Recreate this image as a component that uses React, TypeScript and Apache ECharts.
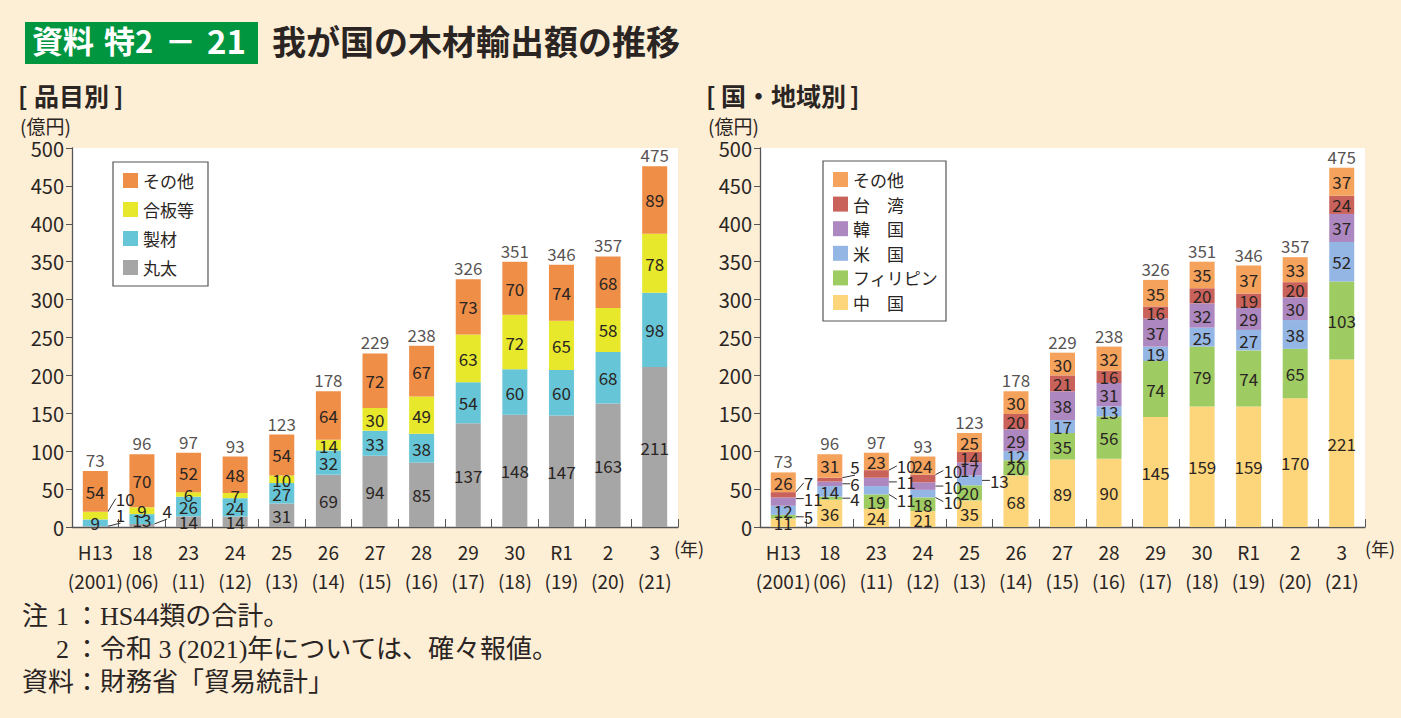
import React, { useEffect, useRef } from 'react';
import * as echarts from 'echarts';

// ---------- DATA ----------
const categories = ['H13\n(2001)', '18\n(06)', '23\n(11)', '24\n(12)', '25\n(13)', '26\n(14)', '27\n(15)', '28\n(16)', '29\n(17)', '30\n(18)', 'R1\n(19)', '2\n(20)', '3\n(21)'];
const totals = [73, 96, 97, 93, 123, 178, 229, 238, 326, 351, 346, 357, 475];

// 品目別
const logs = [1, 4, 14, 14, 31, 69, 94, 85, 137, 148, 147, 163, 211]; // 丸太
const lumber = [9, 13, 26, 24, 27, 32, 33, 38, 54, 60, 60, 68, 98]; // 製材
const plywood = [10, 9, 6, 7, 10, 14, 30, 49, 63, 72, 65, 58, 78]; // 合板等
const otherItems = [54, 70, 52, 48, 54, 64, 72, 67, 73, 70, 74, 68, 89]; // その他

// 国・地域別
const china = [11, 36, 24, 21, 35, 68, 89, 90, 145, 159, 159, 170, 221];
const philippines = [5, 4, 19, 18, 20, 20, 35, 56, 74, 79, 74, 65, 103];
const usa = [12, 14, 11, 10, 13, 12, 17, 13, 19, 25, 27, 38, 52];
const korea = [11, 6, 11, 10, 17, 29, 38, 31, 37, 32, 29, 30, 37];
const taiwan = [7, 5, 10, 10, 14, 20, 21, 16, 16, 20, 19, 20, 24];
const otherRegions = [26, 31, 23, 24, 25, 30, 30, 32, 35, 35, 37, 33, 37];

// ---------- STYLE ----------
const FONT = "'Noto Sans CJK JP', 'Noto Sans', sans-serif";
const SERIF = "'Liberation Serif', 'DejaVu Serif', 'Noto Sans CJK JP', serif";
const TXT = '#2a2523';
const BG = '#FDEED6';

// callout offsets (dataIndex -> vertical shift of label in px)
const callLogs: Record<number, number> = { 0: -12, 1: -15 };
const callPlywood: Record<number, number> = { 0: -17 };
const callPhil: Record<number, number> = { 0: 0, 1: 0 };
const callUsa: Record<number, number> = { 2: 9, 3: 8, 4: 0 };
const callKorea: Record<number, number> = { 0: -3, 1: 0, 2: 0, 3: 0 };
const callTaiwan: Record<number, number> = { 0: -12, 1: -13, 2: -8, 3: -8 };

function toData(values: number[], callouts: Record<number, number>) {
  return values.map((v, i) =>
    callouts[i] !== undefined
      ? {
          value: v,
          label: { position: 'right', distance: 8 },
          labelLine: { show: true, lineStyle: { color: '#333', width: 1 } },
        }
      : v
  );
}

function makeLayout(callouts: Record<number, number>) {
  return (p: any) => {
    const dy = callouts[p.dataIndex];
    if (dy === undefined) return {};
    const r = p.rect;
    const x0 = r.x + r.width;
    const yc = r.y + r.height / 2;
    const lx = x0 + 8;
    const ly = yc + dy;
    const endY = dy < -4 ? ly + 4 : dy > 4 ? ly - 4 : yc + dy;
    return {
      x: lx,
      y: ly,
      align: 'left',
      verticalAlign: 'middle',
      labelLinePoints: [
        [x0 + 1, yc],
        [lx - 1, endY],
        [lx - 1, endY],
      ],
    };
  };
}

function barSeries(name: string, values: number[], color: string, stack: string, axis: number, callouts: Record<number, number>) {
  return {
    type: 'bar',
    name,
    stack,
    xAxisIndex: axis,
    yAxisIndex: axis,
    barWidth: 25,
    data: toData(values, callouts),
    itemStyle: { color },
    emphasis: { disabled: true },
    silent: true,
    label: {
      show: true,
      position: 'inside',
      fontSize: 17,
      fontFamily: FONT,
      color: TXT,
    },
    labelLayout: makeLayout(callouts),
  };
}

const leftSums = categories.map((_, i) => logs[i] + lumber[i] + plywood[i] + otherItems[i]);
const rightSums = categories.map((_, i) => china[i] + philippines[i] + usa[i] + korea[i] + taiwan[i] + otherRegions[i]);

function totalSeries(axis: number, sums: number[]) {
  return {
    type: 'scatter',
    xAxisIndex: axis,
    yAxisIndex: axis,
    symbolSize: 0,
    silent: true,
    data: sums,
    label: {
      show: true,
      position: 'top',
      distance: 3,
      fontSize: 17,
      fontFamily: FONT,
      color: TXT,
      formatter: (p: any) => String(totals[p.dataIndex]),
    },
  };
}

function xAxis(grid: number) {
  return {
    type: 'category',
    gridIndex: grid,
    data: categories,
    axisLine: { lineStyle: { color: '#555', width: 1.3 } },
    axisTick: { show: true, inside: true, length: 8, lineStyle: { color: '#555' } },
    axisLabel: { interval: 0, fontSize: 19, lineHeight: 29, margin: 10, color: TXT, fontFamily: FONT },
  };
}

function yAxis(grid: number) {
  return {
    type: 'value',
    gridIndex: grid,
    min: 0,
    max: 500,
    interval: 50,
    axisLine: { show: true, lineStyle: { color: '#555', width: 1.3 } },
    axisTick: { show: true, length: 6, lineStyle: { color: '#555' } },
    splitLine: { show: false },
    axisLabel: { fontSize: 20, margin: 8, color: TXT, fontFamily: FONT },
  };
}

const legendBase = {
  orient: 'vertical',
  icon: 'rect',
  itemWidth: 15,
  itemHeight: 15,
  borderColor: '#555',
  borderWidth: 1.2,
  backgroundColor: '#fff',
  borderRadius: 0,
  selectedMode: false,
  textStyle: { fontSize: 17, fontFamily: FONT, color: TXT },
};

const txt = (left: number, top: number, text: string, fontSize: number, extra: any = {}) => ({
  type: 'text',
  left,
  top,
  style: { text, fill: TXT, fontSize, fontFamily: FONT, ...extra },
});

export default function App() {
  const ref = useRef<HTMLDivElement>(null);
  useEffect(() => {
    document.body.style.margin = '0';
    const chart = echarts.init(ref.current!, undefined, { renderer: 'svg', width: 1401, height: 718 });
    const option: any = {
      animation: false,
      backgroundColor: BG,
      grid: [
        { left: 72, top: 148, width: 606, height: 379, show: true, backgroundColor: '#fff', borderWidth: 0 },
        { left: 760, top: 148, width: 605, height: 379, show: true, backgroundColor: '#fff', borderWidth: 0 },
      ],
      xAxis: [xAxis(0), xAxis(1)],
      yAxis: [yAxis(0), yAxis(1)],
      legend: [
        {
          ...legendBase,
          left: 113,
          top: 162,
          padding: [10, 14, 10, 10],
          itemGap: 12,
          data: ['その他', '合板等', '製材', '丸太'],
        },
        {
          ...legendBase,
          left: 823,
          top: 161,
          padding: [10, 8, 10, 10],
          itemGap: 7.6,
          data: ['その他 ', '台湾', '韓国', '米国', 'フィリピン', '中国'],
          formatter: (n: string) => (n.trim() === 'その他' ? 'その他' : n.length === 2 ? n[0] + '\u3000' + n[1] : n),
        },
      ],
      series: [
        barSeries('丸太', logs, '#A6A6A6', 'L', 0, callLogs),
        barSeries('製材', lumber, '#66C6D8', 'L', 0, {}),
        barSeries('合板等', plywood, '#E7E82C', 'L', 0, callPlywood),
        barSeries('その他', otherItems, '#EF8E47', 'L', 0, {}),
        totalSeries(0, leftSums),
        barSeries('中国', china, '#FDD57A', 'R', 1, {}),
        barSeries('フィリピン', philippines, '#9ECB62', 'R', 1, callPhil),
        barSeries('米国', usa, '#93B6E4', 'R', 1, callUsa),
        barSeries('韓国', korea, '#AD87BF', 'R', 1, callKorea),
        barSeries('台湾', taiwan, '#C9625B', 'R', 1, callTaiwan),
        barSeries('その他 ', otherRegions, '#F4A25C', 'R', 1, {}),
        totalSeries(1, rightSums),
      ],
      graphic: [
        { type: 'rect', left: 25, top: 22, shape: { width: 233, height: 42 }, style: { fill: '#00963F' } },
        txt(32, 24, '資料', 31, { fill: '#fff', fontWeight: 'bold' }),
        txt(104, 24, '特2', 31, { fill: '#fff', fontWeight: 'bold' }),
        txt(165, 24, '－', 31, { fill: '#fff', fontWeight: 'bold' }),
        txt(207, 23, '21', 33, { fill: '#fff', fontWeight: 'bold' }),
        txt(272, 23, '我が国の木材輸出額の推移', 34, { fontWeight: 'bold' }),
        txt(18, 82, '[', 25, { fontWeight: 'bold' }),
        txt(34, 82, '品目別', 25, { fontWeight: 'bold' }),
        txt(114, 82, ']', 25, { fontWeight: 'bold' }),
        txt(706, 82, '[', 25, { fontWeight: 'bold' }),
        txt(721, 82, '国・地域別', 25, { fontWeight: 'bold' }),
        txt(850, 82, ']', 25, { fontWeight: 'bold' }),
        txt(20, 116, '(億円)', 19),
        txt(708, 116, '(億円)', 19),
        txt(674, 539, '(年)', 18),
        txt(1365, 539, '(年)', 18),
        txt(22, 603, '注', 26, { fontFamily: SERIF }),
        txt(56, 603, '1', 26, { fontFamily: SERIF }),
        txt(74, 603, '：', 26, { fontFamily: SERIF }),
        txt(100, 603, 'HS44類の合計。', 26, { fontFamily: SERIF }),
        txt(56, 636, '2', 26, { fontFamily: SERIF }),
        txt(74, 636, '：', 26, { fontFamily: SERIF }),
        txt(100, 636, '令和 3 (2021)年については、確々報値。', 26, { fontFamily: SERIF }),
        txt(22, 669, '資料', 26, { fontFamily: SERIF }),
        txt(74, 669, '：', 26, { fontFamily: SERIF }),
        txt(100, 669, '財務省「貿易統計」', 26, { fontFamily: SERIF }),
      ],
    };
    chart.setOption(option);
    return () => chart.dispose();
  }, []);
  return <div ref={ref} style={{ width: 1401, height: 718 }} />;
}
